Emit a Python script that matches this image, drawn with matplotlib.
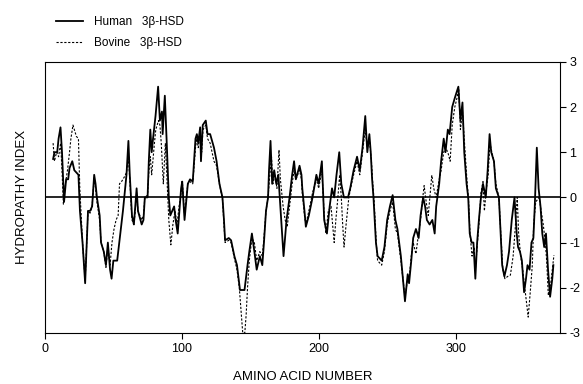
import matplotlib.pyplot as plt

plt.rcParams['font.family'] = ['Liberation Sans', 'DejaVu Sans']
plt.rcParams['axes.unicode_minus'] = False

# Human 3beta-HSD hydropathy profile
human_x = [6, 7, 9, 10, 11.4, 12.5, 14, 15.5, 17, 18, 20, 21.5, 23, 24.5, 25.6, 27.5, 29.4,
           31.5, 33, 34.5, 36, 37, 38, 40, 41, 43, 44.6, 46, 47.6, 48.7, 50, 52.8, 55.5,
           57, 58, 59.6, 61, 62, 63.6, 65, 66, 67, 68, 70.7, 72, 73, 75, 75.9, 77, 78, 79,
           80.8, 82.7, 84, 85.5, 86, 87.6, 89, 90.5, 91.6, 93, 94.4, 95.5, 97, 99.5, 100.3,
           102, 104.4, 106, 108, 110, 111, 112, 113.4, 114, 115.3, 117.5, 118.8, 120.7,
           123.5, 125.4, 127.5, 129.7, 130.8, 131.6, 134.3, 136, 138.4, 140.3, 142.5, 145.8,
           148, 149.3, 151.2, 153, 154.7, 157, 158.8, 160, 161.5, 163, 163.7, 164.8, 166,
           167.5, 169, 170.5, 172.4, 174.3, 176.5, 178.7, 180.6, 182, 183.3, 186, 187.4, 188,
           189.6, 190.6, 192.8, 195.5, 198.3, 200, 202.3, 204, 206, 208, 209.7, 211.3, 213,
           215, 216.5, 218.4, 221.4, 223, 225.5, 228, 230, 232, 234, 235.5, 237, 238, 239,
           240, 241.8, 243, 246, 248, 250, 252, 254, 256, 257.5, 260, 263, 265, 266, 267.6,
           269, 271, 273, 274.4, 276.3, 277.7, 279, 281, 283, 284.7, 285.8, 288, 289.4,
           291.3, 292.6, 294.3, 295.6, 297.5, 299.4, 302, 303.5, 305, 306.3, 308, 309.2,
           310.3, 311.7, 313, 314.4, 315.7, 317, 318.5, 320, 322, 323.4, 324.8, 326, 328,
           329.4, 331.6, 333, 334, 335.6, 337.5, 339, 341, 343, 344.6, 345.6, 347, 348.4,
           350, 351.4, 352.5, 354, 355.4, 356.8, 357.8, 359.3, 360.6, 362, 363.3, 364.7,
           366, 367.5, 369, 370.6, 371.4]
human_y = [0.85, 1.0, 1.0, 1.3, 1.55, 1.0, -0.1, 0.4, 0.4, 0.65, 0.8, 0.6, 0.55, 0.5, -0.3,
           -1.0, -1.9, -0.3, -0.3, -0.2, 0.5, 0.3, 0.0, -0.4, -1.0, -1.2, -1.5, -1.0, -1.6,
           -1.8, -1.4, -1.4, -0.7, -0.3, 0.0, 0.5, 1.25, 0.5, -0.4, -0.6, -0.2, 0.2, -0.3,
           -0.6, -0.5, 0.0, 0.0, 0.8, 1.5, 1.0, 1.3, 1.8, 2.45, 1.7, 1.9, 1.4, 2.25, 1.2,
           0.0, -0.4, -0.3, -0.2, -0.5, -0.8, 0.2, 0.35, -0.5, 0.3, 0.4, 0.35, 1.3, 1.4,
           1.2, 1.55, 0.8, 1.6, 1.7, 1.4, 1.4, 1.1, 0.8, 0.3, 0.0, -0.5, -0.95, -0.9, -0.95,
           -1.3, -1.5, -2.05, -2.05, -1.5, -1.2, -0.8, -1.2, -1.6, -1.3, -1.5, -1.0, -0.3,
           0.0, 0.6, 1.25, 0.3, 0.6, 0.3, 0.5, -0.4, -1.3, -0.5, 0.0, 0.5, 0.8, 0.4, 0.7,
           0.5, 0.2, -0.3, -0.65, -0.4, 0.0, 0.5, 0.3, 0.8, -0.5, -0.8, -0.2, 0.2, 0.0, 0.5,
           1.0, 0.3, 0.0, 0.0, 0.2, 0.6, 0.9, 0.6, 1.1, 1.8, 1.0, 1.4, 1.0, 0.4, 0.0, -1.0,
           -1.3, -1.4, -1.1, -0.5, -0.2, 0.05, -0.5, -0.7, -1.3, -2.3, -1.7, -1.9, -1.4,
           -0.9, -0.7, -0.9, -0.4, 0.0, -0.2, -0.5, -0.6, -0.5, -0.8, -0.2, 0.3, 0.8, 1.3,
           1.0, 1.5, 1.4, 2.0, 2.2, 2.45, 1.7, 2.1, 1.0, 0.3, 0.0, -0.8, -1.0, -1.0, -1.8,
           -1.0, -0.5, 0.0, 0.3, 0.0, 0.6, 1.4, 1.0, 0.8, 0.2, 0.0, -0.9, -1.5, -1.75, -1.5,
           -1.2, -0.5, 0.0, -0.8, -1.1, -1.2, -1.4, -2.1, -1.8, -1.5, -1.6, -1.0, -0.9,
           -0.2, 1.1, 0.2, -0.2, -0.8, -1.1, -0.8, -1.6, -2.2, -1.8, -1.5]

# Bovine 3beta-HSD hydropathy profile
bovine_x = [6, 7, 8.5, 10, 11.5, 12.5, 13.5, 15, 16.5, 18, 19, 20.5, 21.5, 23, 24.5, 25.5,
            26.5, 27.5, 29.4, 31.5, 33, 34.5, 36, 37, 38, 40, 41, 43, 44.6, 46, 47.6, 49,
            50.5, 52, 53.5, 54.5, 56, 58, 59.6, 61, 62, 63.6, 65, 66, 67, 68, 70.7, 72, 73,
            75, 76, 77, 78, 80, 81, 83, 84, 85, 86.5, 88, 89, 90.5, 92, 93.5, 95, 96.5, 98,
            99.5, 100.5, 102, 104.4, 106, 108, 110, 111, 112, 113.4, 114.5, 115.5, 117.5,
            118.8, 120.7, 123.5, 125.4, 127.5, 129.7, 130.8, 131.6, 134.3, 136, 138.4,
            140.3, 142, 143.5, 144.5, 146, 147, 148, 149.3, 151.2, 153, 154.7, 157, 158.8,
            160, 161.5, 163, 164, 165.5, 166.5, 168, 169.5, 171, 172, 174, 175.5, 177,
            178.7, 180.6, 182, 183.3, 186, 187.4, 188, 189.6, 190.6, 192.8, 195.5, 198.3,
            200, 202.3, 204, 205.3, 207, 209, 211.3, 212.5, 214, 215.3, 216.5, 217.5, 218.5,
            220, 222, 224, 225.5, 228, 230, 232, 234, 235.5, 237, 238.5, 239.5, 240.5, 242,
            243, 246, 248, 250, 252, 254, 256, 257.5, 260, 263, 265, 266, 267.6, 269, 271,
            272.5, 274.4, 276, 277, 278.5, 280, 281.5, 282.6, 284, 285.8, 288, 289.4, 291.3,
            292.6, 294.3, 296, 297.5, 299.4, 301, 302.3, 303.5, 305, 306.3, 308, 309.5,
            310.5, 312, 313.5, 314.4, 315.7, 317, 318.5, 320, 321, 322.5, 323.8, 325, 326.5,
            328, 329.4, 331.6, 333, 334.5, 336, 338, 340, 342, 343.5, 345, 346, 347.5, 349,
            350.5, 352, 353, 354.5, 356, 357, 358.5, 359.7, 361, 362, 364, 365.5, 366.5,
            367.7, 369.5, 371.8]
bovine_y = [1.2, 0.8, 1.0, 0.9, 1.2, 0.6, -0.15, 0.3, 0.6, 1.0, 1.3, 1.6, 1.5, 1.35, 1.3,
            0.2, -0.4, -1.0, -1.85, -0.3, -0.35, -0.2, 0.45, 0.2, -0.1, -0.5, -1.0, -1.2,
            -1.55, -1.1, -1.5, -1.0, -0.7, -0.5, -0.4, 0.3, 0.35, 0.45, 0.55, 0.9, 0.4,
            -0.5, -0.6, -0.3, 0.1, -0.3, -0.5, -0.4, 0.0, 0.05, 0.6, 0.9, 0.5, 1.2, 1.5,
            1.7, 1.6, 1.2, 0.3, 1.2, 0.5, -0.5, -1.05, -0.6, -0.3, -0.6, -0.2, 0.1, 0.3,
            -0.4, 0.3, 0.35, 0.3, 1.1, 1.3, 1.1, 1.4, 1.0, 1.5, 1.6, 1.3, 1.2, 0.8, 0.7,
            0.3, -0.05, -0.6, -1.0, -0.95, -1.0, -1.35, -1.6, -2.0, -2.6, -3.0, -3.0, -2.6,
            -2.0, -1.4, -0.9, -1.0, -1.4, -1.2, -1.3, -0.9, -0.3, 0.0, 0.4, 0.9, 0.3, 0.5,
            0.2, 1.05, 0.4, -0.2, -0.5, -0.65, -0.2, 0.3, 0.6, 0.4, 0.6, 0.4, 0.1, -0.4,
            -0.6, -0.3, 0.1, 0.4, 0.2, 0.6, -0.4, -0.8, -0.3, -0.2, -1.0, -0.5, 0.0, 0.5,
            0.0, -0.6, -1.1, -0.6, 0.0, 0.3, 0.5, 0.8, 0.5, 1.0, 1.5, 1.1, 1.3, 0.8, 0.3,
            -0.1, -1.0, -1.4, -1.5, -1.2, -0.6, -0.3, -0.1, -0.7, -0.8, -1.4, -2.2, -1.8,
            -1.8, -1.3, -1.0, -1.25, -0.9, -0.5, 0.0, 0.26, -0.1, -0.4, 0.1, 0.49, 0.2, 0.0,
            0.4, 0.6, 1.0, 1.1, 1.0, 0.8, 1.6, 2.0, 2.2, 2.4, 1.5, 1.9, 1.3, 0.5, -0.1,
            -0.8, -1.3, -1.1, -1.6, -1.1, -0.6, 0.1, 0.35, -0.3, 0.2, 0.5, 1.2, 1.0, 0.8,
            0.3, 0.0, -0.8, -1.6, -1.8, -1.75, -1.72, -1.3, -0.7, 0.0, -0.8, -1.3, -1.6,
            -2.0, -2.4, -2.65, -2.1, -1.5, -0.6, -0.1, -0.05, 0.0, -0.2, -0.6, -1.0, -1.4,
            -2.17, -1.9, -1.28]

x_ticks = [0, 100, 200, 300]
y_ticks = [-3, -2, -1, 0, 1, 2, 3]

fig = plt.figure(figsize=(5.83, 3.84), dpi=100)
ax = fig.add_axes([0.077, 0.133, 0.883, 0.706])

human_line, = ax.plot(human_x, human_y, color='black', lw=1.3, label='Human   3\u03b2-HSD')
bovine_line, = ax.plot(bovine_x, bovine_y, color='black', lw=0.8,
                       linestyle=(0, (2.0, 1.5)), label='Bovine   3\u03b2-HSD')
ax.axhline(0, color='black', lw=1.2)

ax.set_xlim(0, 376)
ax.set_ylim(-3, 3)
ax.set_xticks(x_ticks)
ax.set_yticks(y_ticks)
ax.yaxis.tick_right()
ax.tick_params(axis='both', direction='out', length=4, width=0.8, labelsize=9)
ax.tick_params(axis='y', pad=3)
for s in ax.spines.values():
    s.set_linewidth(0.8)

ax.set_xlabel('AMINO ACID NUMBER', fontsize=9.5, labelpad=11)
ax.set_ylabel('HYDROPATHY INDEX', fontsize=9.5, labelpad=12)

fig.legend(handles=[human_line, bovine_line], loc='upper left',
           bbox_to_anchor=(0.078, 0.985), frameon=False, fontsize=8.5,
           handlelength=2.3, handletextpad=0.9, labelspacing=0.75)

fig.savefig('out.png', dpi=100)
